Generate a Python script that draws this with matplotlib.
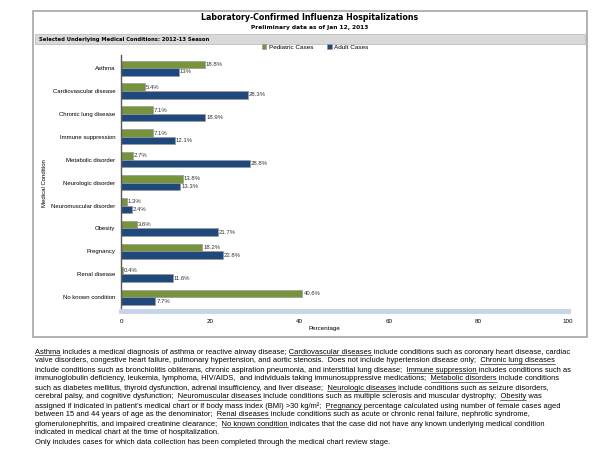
import matplotlib
matplotlib.use("Agg")
import matplotlib.pyplot as plt
from matplotlib.patches import Rectangle
import numpy as np

# data
conditions = ["Asthma", "Cardiovascular disease", "Chronic lung disease",
              "Immune suppression", "Metabolic disorder", "Neurologic disorder",
              "Neuromuscular disorder", "Obesity", "Pregnancy", "Renal disease",
              "No known condition"]
pediatric = [18.8, 5.4, 7.1, 7.1, 2.7, 13.8, 1.3, 3.6, 18.2, 0.4, 40.6]
adult = [13, 28.3, 18.9, 12.1, 28.8, 13.3, 2.4, 21.7, 22.8, 11.6, 7.7]
xticks = [0, 20, 40, 60, 80, 100]

green = "#77933c"
blue = "#1f497d"
arial = "Liberation Sans"

fig = plt.figure(figsize=(6, 4.5), dpi=100)

# outer frame and header strip
fig.patches.append(Rectangle((33 / 600, 1 - 337 / 450), 554 / 600, 326 / 450,
                             transform=fig.transFigure, fill=False,
                             edgecolor="#a6a6a6", linewidth=1.2))
fig.patches.append(Rectangle((35 / 600, 1 - 44 / 450), 550 / 600, 10 / 450,
                             transform=fig.transFigure, facecolor="#d9d9d9",
                             edgecolor="#bfbfbf", linewidth=0.6))
fig.text(310 / 600, 1 - 18 / 450, "Laboratory-Confirmed Influenza Hospitalizations",
         ha="center", va="center", fontsize=5.7, fontweight="bold")
fig.text(310 / 600, 1 - 28 / 450, "Preliminary data as of Jan 12, 2013",
         ha="center", va="center", fontsize=4.2, fontweight="bold")
fig.text(39 / 600, 1 - 39 / 450, "Selected Underlying Medical Conditions: 2012-13 Season",
         ha="left", va="center", fontsize=3.8, fontweight="bold")

ax = fig.add_axes([121 / 600, 1 - 311 / 450, 447 / 600, 256 / 450])
y = np.arange(len(conditions))
h = 0.33
ax.barh(y - h / 2, pediatric, height=h, color=green, edgecolor="#9a9a9a",
        linewidth=0.5, label="Pediatric Cases")
ax.barh(y + h / 2, adult, height=h, color=blue, edgecolor="#9a9a9a",
        linewidth=0.5, label="Adult Cases")
for i in range(len(conditions)):
    ax.text(pediatric[i] + 0.2, y[i] - h / 2, f"{pediatric[i]:g}%", va="center",
            fontsize=4.3, family=arial, color="#333333")
    ax.text(adult[i] + 0.2, y[i] + h / 2, f"{adult[i]:g}%", va="center",
            fontsize=4.3, family=arial, color="#333333")

ax.set_xlim(0, 100)
ax.set_ylim(len(conditions) - 0.4, -0.57)
ax.set_yticks(y)
ax.set_yticklabels(conditions, fontsize=4.3, family=arial)
ax.set_xticks(xticks)
ax.set_xticklabels([str(t) for t in xticks], fontsize=4.5, family=arial)
ax.tick_params(axis="y", length=0, pad=4)
ax.tick_params(axis="x", length=0, pad=6)
ax.set_xlabel("Percentage", fontsize=4.5, family=arial)
ax.xaxis.set_label_coords(0.455, -0.06)
ax.set_ylabel("Medical Condition", fontsize=4.3, family=arial)
ax.yaxis.set_label_coords(-74 / 447, 0.5)

for s in ["top", "right"]:
    ax.spines[s].set_visible(False)
ax.spines["left"].set_color("#595959")
ax.spines["left"].set_linewidth(1.0)
ax.spines["bottom"].set_color("#c6d5e8")
ax.spines["bottom"].set_linewidth(3.5)
ax.vlines(range(10, 100, 10), 0, 0.02, transform=ax.get_xaxis_transform(),
          color="white", linewidth=0.8, clip_on=False)

fig.legend(loc="center", bbox_to_anchor=(315 / 600, 1 - 47 / 450), ncol=2,
           frameon=False, handlelength=0.7, handleheight=0.7,
           columnspacing=2.2, handletextpad=0.4, prop={"family": arial, "size": 4.6})

# footnote with underlined terms
lines = [
    ("Asthma includes a medical diagnosis of asthma or reactive airway disease; Cardiovascular diseases include conditions such as coronary heart disease, cardiac",
     ["Asthma", "Cardiovascular diseases"]),
    ("valve disorders, congestive heart failure, pulmonary hypertension, and aortic stenosis.  Does not include hypertension disease only;  Chronic lung diseases",
     ["Chronic lung diseases"]),
    ("include conditions such as bronchiolitis obliterans, chronic aspiration pneumonia, and interstitial lung disease;  Immune suppression includes conditions such as",
     ["Immune suppression"]),
    ("immunoglobulin deficiency, leukemia, lymphoma, HIV/AIDS,  and individuals taking immunosuppressive medications;  Metabolic disorders include conditions",
     ["Metabolic disorders"]),
    ("such as diabetes mellitus, thyroid dysfunction, adrenal insufficiency, and liver disease;  Neurologic diseases include conditions such as seizure disorders,",
     ["Neurologic diseases"]),
    ("cerebral palsy, and cognitive dysfunction;  Neuromuscular diseases include conditions such as multiple sclerosis and muscular dystrophy;  Obesity was",
     ["Neuromuscular diseases", "Obesity"]),
    ("assigned if indicated in patient\u2019s medical chart or if body mass index (BMI) >30 kg/m\u00b2;  Pregnancy percentage calculated using number of female cases aged",
     ["Pregnancy"]),
    ("between 15 and 44 years of age as the denominator;  Renal diseases include conditions such as acute or chronic renal failure, nephrotic syndrome,",
     ["Renal diseases"]),
    ("glomerulonephritis, and impaired creatinine clearance;  No known condition indicates that the case did not have any known underlying medical condition",
     ["No known condition"]),
    ("indicated in medical chart at the time of hospitalization.", []),
    ("Only includes cases for which data collection has been completed through the medical chart review stage.", []),
]

fig.canvas.draw()
renderer = fig.canvas.get_renderer()
fs = 5.45


def text_width(s):
    t = fig.text(0, 0, s, fontsize=fs, family=arial)
    w = t.get_window_extent(renderer).width
    t.remove()
    return w


x0 = 35
for k, (line, under) in enumerate(lines):
    ypix = 352 + k * 9
    fig.text(x0 / 600, 1 - ypix / 450, line, fontsize=fs, family=arial,
             ha="left", va="center")
    for u in under:
        idx = line.index(u)
        end = text_width(line[:idx + len(u)])
        start = end - text_width(u)
        fig.add_artist(plt.Line2D([(x0 + start) / 600, (x0 + end) / 600],
                                  [1 - (ypix + 2.8) / 450] * 2,
                                  transform=fig.transFigure, color="black",
                                  linewidth=0.4))

fig.savefig("out.png", dpi=100)
